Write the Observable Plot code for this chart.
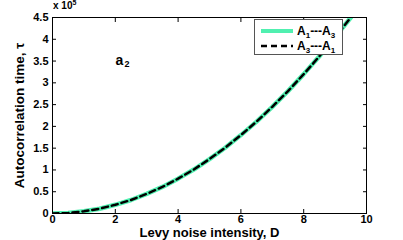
<!DOCTYPE html>
<html>
<head>
<meta charset="utf-8">
<script src="https://cdn.jsdelivr.net/npm/d3@7"></script>
<script src="https://cdn.jsdelivr.net/npm/@observablehq/plot@0.6"></script>
<style>
  body { margin: 0; background: #fff; }
  #wrap { position: relative; width: 403px; height: 240px; font-family: "Liberation Sans", Arial, sans-serif; }
  #legend { position: absolute; left: 254px; top: 19px; width: 89px; height: 36px; background: #fff; border: 1px solid #555; box-sizing: border-box; font-weight: bold; font-size: 12px; }
  .row { position: absolute; left: 6px; height: 14px; display: flex; align-items: center; white-space: nowrap; }
  .row svg { margin-right: 4px; }
  sub { font-size: 8px; vertical-align: -3px; line-height: 0; }
  #mult { position: absolute; left: 53px; top: 0px; font-weight: bold; font-size: 10px; }
  #mult sup { font-size: 7px; vertical-align: 4px; line-height: 0; }
</style>
</head>
<body>
<div id="wrap">
  <div id="chart"></div>
  <div id="mult">x 10<sup>5</sup></div>
  <div id="legend">
    <div class="row" style="top:4px"><svg width="32" height="6"><line x1="0" y1="3" x2="32" y2="3" stroke="#50f0b0" stroke-width="4"/></svg><span>A<sub>1</sub>---A<sub>3</sub></span></div>
    <div class="row" style="top:19px"><svg width="32" height="6"><line x1="0" y1="3" x2="32" y2="3" stroke="#000" stroke-width="2.5" stroke-dasharray="6,4"/></svg><span>A<sub>3</sub>---A<sub>1</sub></span></div>
  </div>
</div>
<script>
const D = [0, 0.5, 1, 1.5, 2, 2.5, 3, 3.5, 4, 4.5, 5, 5.5, 6, 6.5, 7, 7.5, 8, 8.5, 9, 9.5];
const tauA1A3 = [0, 0.012, 0.05, 0.11, 0.2, 0.31, 0.45, 0.61, 0.8, 1.01, 1.25, 1.51, 1.8, 2.11, 2.45, 2.81, 3.2, 3.61, 4.05, 4.5];
const tauA3A1 = [0, 0.012, 0.05, 0.11, 0.2, 0.31, 0.45, 0.61, 0.8, 1.01, 1.25, 1.51, 1.8, 2.11, 2.45, 2.81, 3.2, 3.61, 4.05, 4.5];
const xTicks = [0, 2, 4, 6, 8, 10];
const yTicks = [0, 0.5, 1, 1.5, 2, 2.5, 3, 3.5, 4, 4.5];
const yTickLabels = ["0", "0.5", "1", "1.5", "2", "2.5", "3", "3.5", "4", "4.5"];

const s1 = D.map((d, i) => ({D: d, tau: tauA1A3[i]}));
const s2 = D.map((d, i) => ({D: d, tau: tauA3A1[i]}));
const blank = () => "";

const chart = Plot.plot({
  width: 403,
  height: 240,
  marginLeft: 52,
  marginRight: 37,
  marginTop: 17,
  marginBottom: 27,
  style: {fontFamily: "Liberation Sans, Arial, sans-serif", fontWeight: "bold", fontSize: "11px", color: "#000", background: "#fff"},
  x: {domain: [0, 10]},
  y: {domain: [0, 4.5]},
  marks: [
    Plot.line(s1, {x: "D", y: "tau", stroke: "#50f0b0", strokeWidth: 4.5, clip: true}),
    Plot.line(s2, {x: "D", y: "tau", stroke: "#000", strokeWidth: 2.5, strokeDasharray: "6,4", clip: true}),
    Plot.axisX({ticks: xTicks, tickSize: -4, tickFormat: blank, label: null}),
    Plot.axisX({anchor: "top", ticks: xTicks, tickSize: -4, tickFormat: blank, label: null}),
    Plot.axisY({ticks: yTicks, tickSize: -4, tickFormat: blank, label: null}),
    Plot.axisY({anchor: "right", ticks: yTicks, tickSize: -4, tickFormat: blank, label: null}),
    Plot.axisX({ticks: xTicks, tickSize: 0, tickPadding: 2, label: null}),
    Plot.axisX({ticks: [], tickSize: 0, label: "Levy noise intensity, D", labelAnchor: "center", labelArrow: "none", labelOffset: 23.5, fontSize: 13}),
    Plot.axisY({ticks: yTicks, tickSize: 0, tickPadding: 4, tickFormat: (d, i) => yTickLabels[i], label: null}),
    Plot.axisY({ticks: [], tickSize: 0, label: "Autocorrelation time, τ", labelAnchor: "center", labelArrow: "none", labelOffset: 38, fontSize: 13.5}),
    Plot.frame({stroke: "#000", strokeWidth: 1}),
    Plot.text(["a"], {frameAnchor: "top-left", dx: 63, dy: 38, text: d => d, fontSize: 14, fontWeight: "bold"}),
    Plot.text(["2"], {frameAnchor: "top-left", dx: 72, dy: 43, text: d => d, fontSize: 9, fontWeight: "bold"})
  ]
});
document.getElementById("chart").appendChild(chart);
</script>
</body>
</html>
